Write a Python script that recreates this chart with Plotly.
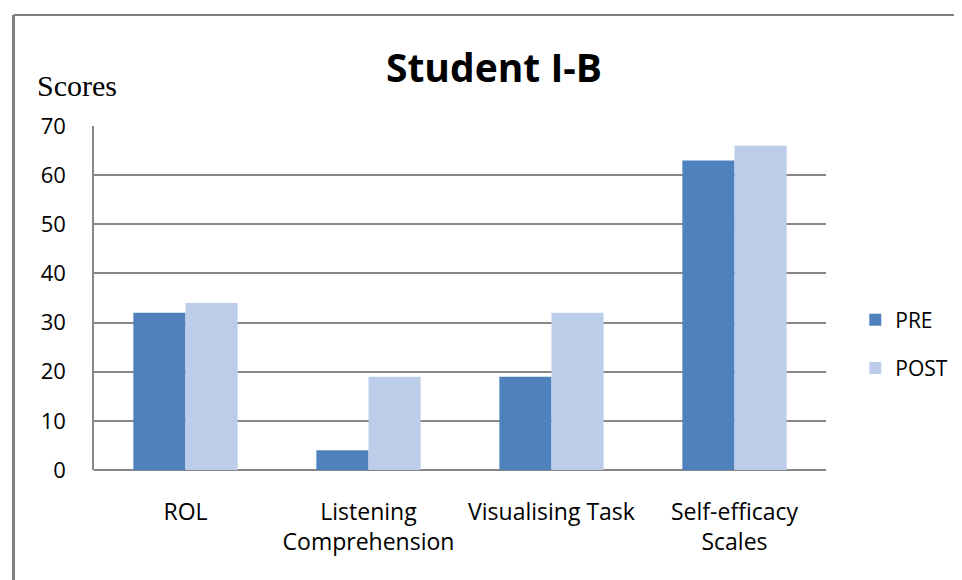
import plotly.graph_objs as go

categories = ['ROL', 'Listening<br>Comprehension', 'Visualising Task', 'Self-efficacy<br>Scales']
pre_scores = [32, 4, 19, 63]
post_scores = [34, 19, 32, 66]
y_ticks = [0, 10, 20, 30, 40, 50, 60, 70]

x_font = dict(family='Open Sans, sans-serif', size=23, color='#000000')
y_font = dict(family='Open Sans, sans-serif', size=22, color='#000000')
legend_font = dict(family='Open Sans, sans-serif', size=21, color='#000000')

trace0 = go.Bar(x=categories,
                y=pre_scores,
                name='PRE',
                legendgroup='pre',
                marker=dict(color='#4F81BD', line=dict(width=0)))

trace1 = go.Bar(x=categories,
                y=post_scores,
                name='POST',
                legendgroup='post',
                marker=dict(color='#BCCDEA', line=dict(width=0)))

# the page body adds an 8px margin, so the figure is shifted up/left by that much
layout = go.Layout(
    width=962,
    height=580,
    margin=dict(l=86, r=144, t=118, b=118),
    paper_bgcolor='white',
    plot_bgcolor='white',
    barmode='group',
    bargap=0.43,
    bargroupgap=0,
    title=dict(text='<b>Student I-B</b>', x=486 / 962, xanchor='center', y=1 - 60 / 580, yanchor='middle',
               font=dict(family='Open Sans, sans-serif', size=39, color='#000000')),
    xaxis=dict(tickfont=x_font, showgrid=False, showline=False, ticks='',
               ticklabelstandoff=26, fixedrange=True),
    yaxis=dict(range=[0, 70], tickvals=y_ticks, tickfont=y_font,
               showgrid=True, gridcolor='#878787', gridwidth=1.5,
               showline=True, linecolor='#878787', linewidth=1.5,
               zeroline=True, zerolinecolor='#878787', zerolinewidth=2,
               ticks='', ticklabelstandoff=22),
    legend=dict(x=1.04, y=0.366, xanchor='left', yanchor='middle', font=legend_font,
                traceorder='grouped', tracegroupgap=18, itemwidth=30),
    annotations=[dict(text='Scores', xref='paper', yref='paper', x=-0.081, y=1.119,
                      xanchor='left', yanchor='middle', showarrow=False,
                      font=dict(family='Liberation Serif, serif', size=30, color='#000000'))],
    shapes=[
        dict(type='line', xref='paper', yref='paper', x0=-0.11, x1=1.2, y0=1.323, y1=1.323,
             line=dict(color='#808080', width=2)),
        dict(type='line', xref='paper', yref='paper', x0=-0.11, x1=-0.11, y0=1.323, y1=-0.35,
             line=dict(color='#808080', width=3)),
    ],
)

fig = go.Figure(data=[trace0, trace1], layout=layout)
fig.write_html("out.html")
